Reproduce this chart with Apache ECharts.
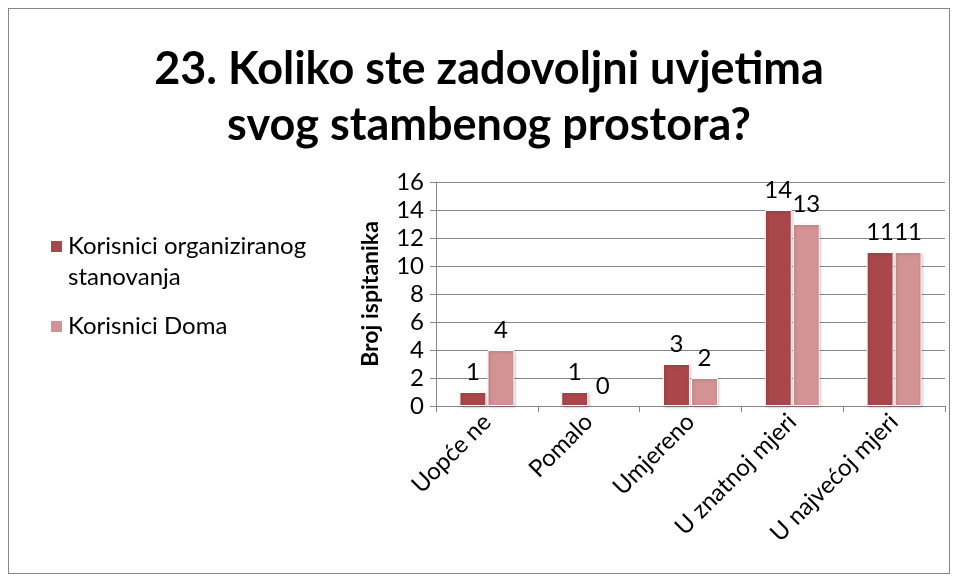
<!DOCTYPE html>
<html>
<head>
<meta charset="utf-8">
<script src="https://cdn.jsdelivr.net/npm/echarts@6/dist/echarts.min.js"></script>
<style>
  html, body { margin: 0; padding: 0; background: #fff; }
  #frame { position: absolute; left: 8px; top: 8px; width: 940px; height: 564px; border: 1px solid #868686; }
  #chart { position: absolute; left: 0; top: 0; width: 958px; height: 581px; }
</style>
</head>
<body>
<div id="frame"></div>
<div id="chart"></div>
<script>
const titleLines = ['23. Koliko ste zadovoljni uvjetima', 'svog stambenog prostora?'];
const categories = ['Uopće ne', 'Pomalo', 'Umjereno', 'U znatnoj mjeri', 'U najvećoj mjeri'];
const seriesNames = ['Korisnici organiziranog stanovanja', 'Korisnici Doma'];
const organizirano = [1, 1, 3, 14, 11];
const dom = [4, 0, 2, 13, 11];
const colors = ['#A9474A', '#D39293'];

const font = 'Lato, "Open Sans", sans-serif';

const chart = echarts.init(document.getElementById('chart'), null, { renderer: 'canvas' });

const makeSeries = (name, data, color) => ({
  name,
  type: 'bar',
  // zero bars draw nothing, only the label
  data: data.map((v) => (v === 0 ? { value: v, itemStyle: { borderWidth: 0, shadowBlur: 0, shadowColor: 'transparent' } } : v)),
  barGap: '4%',
  barCategoryGap: '46%',
  itemStyle: { color, borderColor: '#fff', borderWidth: 1, shadowColor: 'rgba(0,0,0,0.25)', shadowBlur: 3, shadowOffsetX: 1, shadowOffsetY: 1 },
  label: {
    show: true,
    position: 'top',
    distance: 8,
    color: '#000',
    fontSize: 24,
    fontFamily: font
  }
});

chart.setOption({
  animation: false,
  title: {
    text: titleLines.join('\n'),
    left: 484,
    textAlign: 'center',
    top: 36,
    textStyle: { fontSize: 45, fontWeight: 'bold', fontFamily: font, color: '#000', lineHeight: 56 }
  },
  legend: {
    orient: 'vertical',
    left: 44,
    top: 195,
    itemWidth: 13,
    itemHeight: 13,
    itemGap: 18,
    icon: 'rect',
    data: seriesNames,
    // blank first line so the square sits beside "Korisnici organiziranog"
    formatter: (n) => (n === seriesNames[0] ? ' \nKorisnici organiziranog\nstanovanja' : n),
    textStyle: {
      fontSize: 24,
      fontFamily: font,
      color: '#000',
      lineHeight: 31
    }
  },
  grid: { left: 436, right: 13, top: 182, bottom: 175 },
  xAxis: {
    type: 'category',
    data: categories,
    axisLine: { lineStyle: { color: '#868686', width: 1 } },
    axisTick: { show: true, length: 6, lineStyle: { color: '#868686' } },
    axisLabel: { rotate: 45, fontSize: 24, fontFamily: font, color: '#000', margin: 12 }
  },
  yAxis: {
    type: 'value',
    min: 0,
    max: 16,
    interval: 2,
    name: 'Broj ispitanika',
    nameLocation: 'middle',
    nameGap: 54,
    nameTextStyle: { fontSize: 23, fontWeight: 'bold', fontFamily: font, color: '#000' },
    axisLine: { show: true, lineStyle: { color: '#868686' } },
    axisTick: { show: true, length: 6, lineStyle: { color: '#868686' } },
    splitLine: { lineStyle: { color: '#868686', width: 1 } },
    axisLabel: { fontSize: 24, fontFamily: font, color: '#000', margin: 12 }
  },
  series: [
    makeSeries(seriesNames[0], organizirano, colors[0]),
    makeSeries(seriesNames[1], dom, colors[1])
  ]
});
</script>
</body>
</html>
